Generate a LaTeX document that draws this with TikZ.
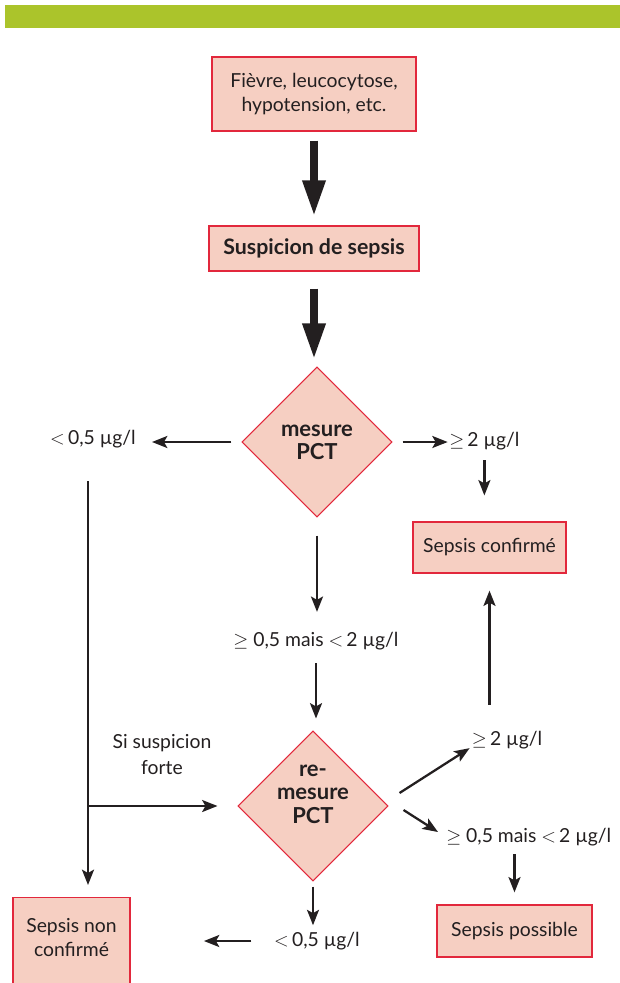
\documentclass[tikz,border=0pt]{standalone}
\usepackage{fontspec}
\setmainfont{Lato}
\usetikzlibrary{shapes.geometric,arrows.meta}
\definecolor{barc}{RGB}{171,196,43}
\definecolor{pk}{RGB}{246,207,194}
\definecolor{rd}{RGB}{226,40,60}
\definecolor{tx}{RGB}{35,31,32}
\begin{document}
\begin{tikzpicture}[x=0.75pt,y=-0.75pt, font=\fontsize{14.5}{18}\selectfont, text=tx,
 box/.style={draw=rd, fill=pk, line width=0.9pt, align=center, inner sep=0pt},
 dia/.style={diamond, draw=rd, fill=pk, line width=0.8pt, align=center, inner sep=0pt, minimum width=112.5pt, minimum height=112.5pt, font=\fontsize{16.5}{17.5}\selectfont\bfseries},
 lab/.style={inner sep=0pt, align=center},
 arr/.style={draw=tx, line width=1.7pt, -{Stealth[length=11.5pt,width=9pt,inset=2.5pt]}},
 big/.style={draw=tx, line width=6pt, -{Triangle[length=27pt,width=16pt]}}]
\path[use as bounding box] (0,0) rectangle (620,983);
\clip (0,0) rectangle (620,983);
\fill[barc] (5,5) rectangle (625,28);

\node[box, minimum width=153pt, minimum height=55.5pt] (f) at (314,94) {Fièvre, leucocytose,\\hypotension, etc.};
\node[box, minimum width=157.5pt, minimum height=33.75pt, font=\fontsize{16}{18}\selectfont\bfseries] (s) at (314,248.5) {Suspicion de sepsis};
\node[dia] (d1) at (317,442) {mesure\\PCT};
\node[lab, anchor=east] (l1) at (136,439) {$<$\,0,5 µg/l};
\node[lab, anchor=west] (r1) at (449,441) {$\geq$\,2 µg/l};
\node[box, minimum width=114.75pt, minimum height=38.25pt] (c) at (489.5,547.5) {Sepsis confirmé};
\node[lab] (m1) at (316,641) {$\geq$ 0,5 mais $<$\,2 µg/l};
\node[dia] (d2) at (313,806) {};
\node[lab, font=\fontsize{16.5}{17.5}\selectfont\bfseries] (t2) at ([yshift=9pt]d2.center) {re-\\mesure\\PCT};
\node[lab, font=\fontsize{14.5}{19.5}\selectfont] (sf) at (162,755) {Si suspicion\\forte};
\coordinate (j) at (88,806);
\node[lab] (r2) at (507,740) {$\geq$\,2 µg/l};
\node[lab, anchor=west] (m2) at (446,837) {$\geq$ 0,5 mais $<$\,2 µg/l};
\node[box, minimum width=116.25pt, minimum height=39pt] (p) at (514.5,931) {Sepsis possible};
\node[lab] (l2) at (317,941) {$<$\,0,5 µg/l};
\node[box, minimum width=87.75pt, minimum height=75pt, anchor=north] (n) at (71.5,897) {};
\node[lab] (nt) at (71.5,938) {Sepsis non\\confirmé};

\draw[big, shorten <=6.75pt, shorten >=6.75pt] (f.south) -- (s.north);
\draw[big, shorten <=12.75pt, shorten >=5.25pt] (s.south) -- (s.south |- d1.north);
\draw[arr, shorten <=7.5pt, shorten >=12pt] (d1.west) -- (d1.west -| l1.east);
\draw[arr, shorten <=7.5pt, shorten >=1pt] (d1.east) -- (d1.east -| r1.west);
\draw[arr, shorten <=7.5pt, shorten >=19.5pt] (r1.south) -- (r1.south |- c.north);
\draw[arr, shorten <=13.5pt, shorten >=15pt] (d1.south) -- (d1.south |- m1.north);
\draw[arr, shorten <=10pt, shorten >=9pt] (m1.south) -- (m1.south |- d2.north);
\draw[arr, shorten <=25pt, shorten >=9pt] (l1.south -| j) -- (j |- n.north);
\draw[arr, shorten >=15pt] (j) -- (d2.west);
\draw[arr] ([xshift=8.25pt,yshift=9.75pt]d2.east) -- ([xshift=-1.5pt,yshift=0.75pt]r2.south west);
\draw[arr, shorten <=19.5pt, shorten >=12.75pt] (c.south |- r2.north) -- (c.south);
\draw[arr] ([xshift=11.25pt,yshift=-3pt]d2.east) -- ([xshift=-6pt,yshift=3.75pt]m2.west);
\draw[arr, shorten <=6pt, shorten >=9pt] (m2.south -| p.north) -- (p.north);
\draw[arr, shorten <=3.75pt, shorten >=5pt] (d2.south) -- (d2.south |- l2.north);
\draw[arr, shorten <=17pt, shorten >=55pt] (l2.west) -- (l2.west -| n.east);
\end{tikzpicture}
\end{document}
